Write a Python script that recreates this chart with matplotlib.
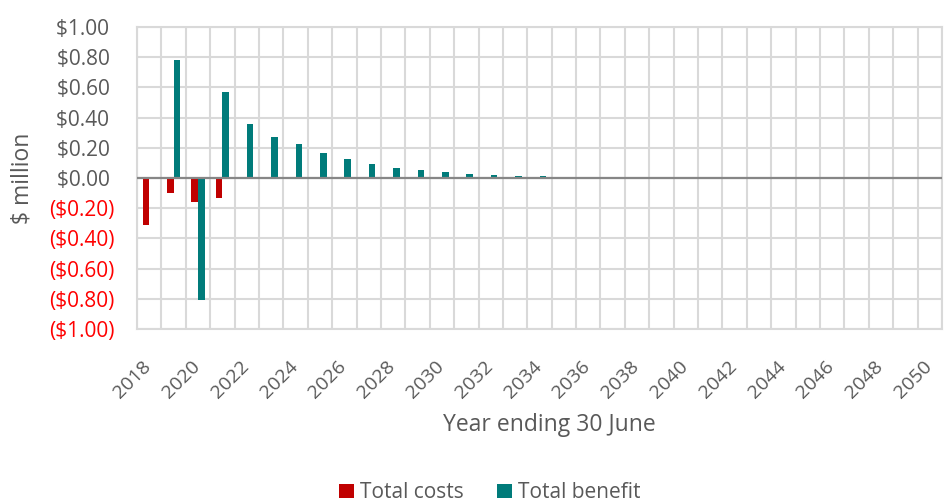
import matplotlib

matplotlib.use("Agg")
import matplotlib.pyplot as plt
import matplotlib.transforms as mtransforms
import numpy as np
from matplotlib.ticker import FuncFormatter, MultipleLocator

years = list(range(2018, 2051))
total_costs = [-0.31, -0.10, -0.16, -0.13] + [0.0] * 29
total_benefit = [0.0, 0.78, -0.81, 0.57, 0.355, 0.27, 0.223, 0.165, 0.124, 0.091,
                 0.069, 0.051, 0.038, 0.029, 0.020, 0.015, 0.011, 0.007, 0.004,
                 0.003, 0.002] + [0.0] * 12

RED = "#C00000"
TEAL = "#007B7A"
GRID = "#D9D9D9"
TXT = "#595959"

plt.rcParams["font.family"] = ["Open Sans", "DejaVu Sans"]

fig = plt.figure(figsize=(9.49, 5.04), dpi=100)
ax = fig.add_axes([0.1444, 0.3472, 0.8482, 0.5992])

x = np.arange(len(years))
w = 0.27
ax.bar(x - w / 2, total_costs, w, color=RED, label="Total costs", zorder=3)
ax.bar(x + w / 2, total_benefit, w, color=TEAL, label="Total benefit", zorder=3)

ax.set_xlim(-0.5, len(years) - 0.5)
ax.set_ylim(-1.0, 1.0)
ax.yaxis.set_major_locator(MultipleLocator(0.2))


def money(v, pos):
    # Excel-style accounting format: negatives in brackets, positives padded
    if abs(v) < 1e-9:
        return "$0.00 "
    if v < 0:
        return f"(${-v:.2f})"
    return f"${v:.2f} "


ax.yaxis.set_major_formatter(FuncFormatter(money))

# vertical grid at category boundaries
for b in np.arange(-0.5, len(years), 1.0):
    ax.axvline(b, color=GRID, lw=1.5, zorder=1)
ax.grid(axis="y", color=GRID, lw=1.5, zorder=1)
ax.axhline(0, color="#868686", lw=1.6, zorder=4)

for s in ax.spines.values():
    s.set_color(GRID)
    s.set_linewidth(1.5)

ax.set_xticks(x[::2])
ax.set_xticklabels([str(y) for y in years[::2]], rotation=45, ha="right",
                   rotation_mode="anchor", fontsize=14, color=TXT)
ax.tick_params(axis="both", length=0)
ax.tick_params(axis="x", pad=17)
ax.tick_params(axis="y", pad=16, labelsize=15, labelcolor=TXT)

shift = mtransforms.ScaledTranslation(-7 / 100, -5 / 100, fig.dpi_scale_trans)
for lab in ax.get_xticklabels():
    lab.set_transform(lab.get_transform() + shift)

fig.canvas.draw()
for lab in ax.get_yticklabels():
    if lab.get_text().startswith("("):
        lab.set_color("#FF0000")

fig.text(23 / 949, 1 - 178 / 504, "$ million", rotation=90, ha="center", va="center",
         fontsize=16.5, color=TXT)
fig.text(549 / 949, 1 - 425 / 504, "Year ending 30 June", ha="center", va="center",
         fontsize=16.5, color=TXT)

ax.legend(loc="center", bbox_to_anchor=(490 / 949, 0.022), bbox_transform=fig.transFigure,
          ncol=2, frameon=False, fontsize=15, handlelength=0.7, handleheight=0.7,
          handletextpad=0.3, columnspacing=1.6, labelcolor=TXT)

fig.savefig("out.png", dpi=100)
